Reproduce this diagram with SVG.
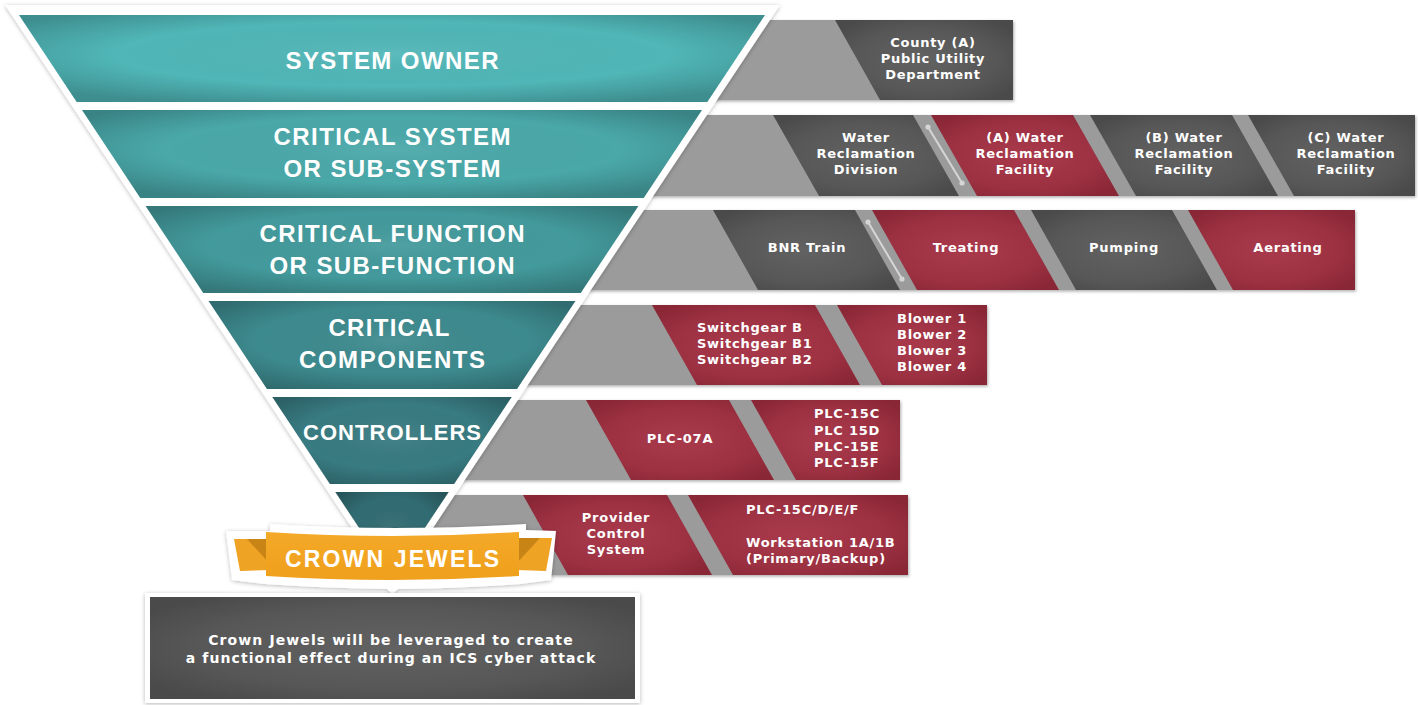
<svg xmlns="http://www.w3.org/2000/svg" width="1418" height="705" viewBox="0 0 1418 705">
  <defs>
    <filter id="sh" x="-5%" y="-10%" width="110%" height="125%">
      <feDropShadow dx="1" dy="1.5" stdDeviation="1.6" flood-color="#000" flood-opacity="0.32"/>
    </filter>
    <filter id="shSoft" x="-5%" y="-5%" width="110%" height="110%">
      <feDropShadow dx="0" dy="1" stdDeviation="2.2" flood-color="#000" flood-opacity="0.28"/>
    </filter>
    <radialGradient id="shade" cx="0.5" cy="0.45" r="0.62">
      <stop offset="0" stop-color="#fff" stop-opacity="0.07"/>
      <stop offset="0.6" stop-color="#000" stop-opacity="0"/>
      <stop offset="1" stop-color="#000" stop-opacity="0.22"/>
    </radialGradient>
    <radialGradient id="red" cx="0.5" cy="0.5" r="0.62">
      <stop offset="0" stop-color="#a93a4c"/>
      <stop offset="0.65" stop-color="#9c3142"/>
      <stop offset="1" stop-color="#8a2736"/>
    </radialGradient>
    <radialGradient id="dark" cx="0.5" cy="0.5" r="0.62">
      <stop offset="0" stop-color="#626262"/>
      <stop offset="0.65" stop-color="#575757"/>
      <stop offset="1" stop-color="#4a4a4a"/>
    </radialGradient>
    <linearGradient id="orange" x1="0" y1="0" x2="0" y2="1">
      <stop offset="0" stop-color="#f4a928"/>
      <stop offset="1" stop-color="#efa01c"/>
    </linearGradient>
    <style>
      .bar { fill: #9b9b9b; }
      .r { fill: url(#red); }
      .d { fill: url(#dark); }
      .sd { fill: url(#shade); }
      .hd { font-family: "Liberation Sans", Arial, sans-serif; font-weight: bold; font-size: 24px; fill: #fff; text-anchor: middle; }
      .bx { font-family: "DejaVu Sans", "Liberation Sans", sans-serif; font-weight: bold; font-size: 13px; fill: #fff; letter-spacing: 0.75px; }
      .c { text-anchor: middle; }
      .link { stroke: #d6d6d6; stroke-width: 2; }
      .dot { fill: #d6d6d6; }
    </style>
  </defs>

  <rect width="1418" height="705" fill="#fff"/>

  <!-- grey row bars behind the detail boxes -->
  <g id="rows" filter="url(#sh)">
    <rect class="bar" x="380" y="20" width="633" height="80"/>
    <rect class="bar" x="380" y="115" width="1035" height="81"/>
    <rect class="bar" x="380" y="210" width="975" height="80"/>
    <rect class="bar" x="380" y="305" width="607" height="80"/>
    <rect class="bar" x="380" y="400" width="520" height="80"/>
    <rect class="bar" x="380" y="495" width="528" height="80"/>
  </g>

  <!-- row 1 : system owner -->
  <g id="owner">
    <polygon class="d" points="835,20 1013,20 1013,100 880,100"/>
    <text class="bx c" x="933" y="47">County (A)</text>
    <text class="bx c" x="933" y="63">Public Utility</text>
    <text class="bx c" x="933" y="79">Department</text>
  </g>

  <!-- row 2 : critical system -->
  <g id="wr-division">
    <polygon class="d" points="773,115 913,115 959,196 819,196"/>
    <text class="bx c" x="866" y="142">Water</text>
    <text class="bx c" x="866" y="158">Reclamation</text>
    <text class="bx c" x="866" y="174">Division</text>
  </g>
  <g id="wr-facility-a">
    <polygon class="r" points="931,115 1073,115 1119,196 977,196"/>
    <text class="bx c" x="1025" y="142">(A) Water</text>
    <text class="bx c" x="1025" y="158">Reclamation</text>
    <text class="bx c" x="1025" y="174">Facility</text>
  </g>
  <g id="wr-facility-b">
    <polygon class="d" points="1090,115 1232,115 1278,196 1136,196"/>
    <text class="bx c" x="1184" y="142">(B) Water</text>
    <text class="bx c" x="1184" y="158">Reclamation</text>
    <text class="bx c" x="1184" y="174">Facility</text>
  </g>
  <g id="wr-facility-c">
    <polygon class="d" points="1248,115 1415,115 1415,196 1294,196"/>
    <text class="bx c" x="1346" y="142">(C) Water</text>
    <text class="bx c" x="1346" y="158">Reclamation</text>
    <text class="bx c" x="1346" y="174">Facility</text>
  </g>

  <!-- row 3 : critical function -->
  <g id="bnr-train">
    <polygon class="d" points="713,210 855,210 900,290 758,290"/>
    <text class="bx c" x="807" y="252">BNR Train</text>
  </g>
  <g id="treating">
    <polygon class="r" points="872,210 1014,210 1059,290 917,290"/>
    <text class="bx c" x="966" y="252">Treating</text>
  </g>
  <g id="pumping">
    <polygon class="d" points="1031,210 1172,210 1217,290 1076,290"/>
    <text class="bx c" x="1124" y="252">Pumping</text>
  </g>
  <g id="aerating">
    <polygon class="r" points="1188,210 1355,210 1355,290 1233,290"/>
    <text class="bx c" x="1288" y="252">Aerating</text>
  </g>

  <!-- row 4 : critical components -->
  <g id="switchgear">
    <polygon class="r" points="652,305 815,305 860,385 697,385"/>
    <text class="bx" x="697" y="332">Switchgear B</text>
    <text class="bx" x="697" y="348">Switchgear B1</text>
    <text class="bx" x="697" y="364">Switchgear B2</text>
  </g>
  <g id="blowers">
    <polygon class="r" points="837,305 987,305 987,385 882,385"/>
    <text class="bx" x="897" y="323">Blower 1</text>
    <text class="bx" x="897" y="339">Blower 2</text>
    <text class="bx" x="897" y="355">Blower 3</text>
    <text class="bx" x="897" y="371">Blower 4</text>
  </g>

  <!-- row 5 : controllers -->
  <g id="plc-07a">
    <polygon class="r" points="586,400 729,400 774,480 631,480"/>
    <text class="bx c" x="680" y="443">PLC-07A</text>
  </g>
  <g id="plc-15">
    <polygon class="r" points="751,400 900,400 900,480 796,480"/>
    <text class="bx" x="814" y="418">PLC-15C</text>
    <text class="bx" x="814" y="435">PLC 15D</text>
    <text class="bx" x="814" y="451">PLC-15E</text>
    <text class="bx" x="814" y="467">PLC-15F</text>
  </g>

  <!-- row 6 : crown jewels -->
  <g id="provider">
    <polygon class="r" points="523,495 667,495 712,575 568,575"/>
    <text class="bx c" x="616" y="522">Provider</text>
    <text class="bx c" x="616" y="538">Control</text>
    <text class="bx c" x="616" y="554">System</text>
  </g>
  <g id="workstations">
    <polygon class="r" points="688,495 908,495 908,575 733,575"/>
    <text class="bx" x="746" y="514">PLC-15C/D/E/F</text>
    <text class="bx" x="746" y="547">Workstation 1A/1B</text>
    <text class="bx" x="746" y="563">(Primary/Backup)</text>
  </g>

  <!-- links between related boxes -->
  <g id="connectors">
    <line class="link" x1="928" y1="127" x2="962" y2="183"/>
    <circle class="dot" cx="928" cy="127" r="2.6"/>
    <circle class="dot" cx="962" cy="183" r="2.6"/>
    <line class="link" x1="868" y1="222" x2="902" y2="279"/>
    <circle class="dot" cx="868" cy="222" r="2.6"/>
    <circle class="dot" cx="902" cy="279" r="2.6"/>
  </g>

  <!-- funnel -->
  <g id="funnel">
    <polygon points="5,5 780,5 392.5,589" fill="#fff" filter="url(#shSoft)"/>
  </g>
  <g id="system-owner">
    <polygon points="19,15 765,15 707.3,102 76.7,102" fill="#50b6b7"/>
    <polygon class="sd" points="19,15 765,15 707.3,102 76.7,102"/>
    <text class="hd" x="392" y="69" textLength="213" lengthAdjust="spacing">SYSTEM OWNER</text>
  </g>
  <g id="critical-system">
    <polygon points="82,110 702,110 643.7,198 140.3,198" fill="#4aa8a9"/>
    <polygon class="sd" points="82,110 702,110 643.7,198 140.3,198"/>
    <text class="hd" x="392" y="145" textLength="237" lengthAdjust="spacing">CRITICAL SYSTEM</text>
    <text class="hd" x="392" y="177" textLength="217" lengthAdjust="spacing">OR SUB-SYSTEM</text>
  </g>
  <g id="critical-function">
    <polygon points="145.6,206 638.4,206 580.7,293 203.3,293" fill="#439a9c"/>
    <polygon class="sd" points="145.6,206 638.4,206 580.7,293 203.3,293"/>
    <text class="hd" x="392" y="242" textLength="265" lengthAdjust="spacing">CRITICAL FUNCTION</text>
    <text class="hd" x="392" y="274" textLength="245" lengthAdjust="spacing">OR SUB-FUNCTION</text>
  </g>
  <g id="critical-components">
    <polygon points="208.6,301 575.4,301 517,389 267,389" fill="#3d8a8e"/>
    <polygon class="sd" points="208.6,301 575.4,301 517,389 267,389"/>
    <text class="hd" x="389" y="336" textLength="121" lengthAdjust="spacing">CRITICAL</text>
    <text class="hd" x="392" y="368" textLength="186" lengthAdjust="spacing">COMPONENTS</text>
  </g>
  <g id="controllers">
    <polygon points="272.3,397 511.7,397 454.1,484 329.9,484" fill="#387b81"/>
    <polygon class="sd" points="272.3,397 511.7,397 454.1,484 329.9,484"/>
    <text class="hd" x="392" y="440" style="font-size:22px" textLength="178" lengthAdjust="spacing">CONTROLLERS</text>
  </g>
  <g id="funnel-tip">
    <polygon points="335.3,492 448.7,492 392,577.6" fill="#326c73"/>
    <polygon class="sd" points="335.3,492 448.7,492 392,577.6"/>
  </g>

  <!-- crown jewels ribbon -->
  <g id="crown-jewels">
    <g filter="url(#shSoft)">
      <path d="M226,531 L270,531 L270,524 Q392,532 526,524 L526,530 L556,531 L551,580 L520,584 Q460,588 398,589 L392.5,594 L387,589 Q320,588 265,584 L232,580 Z" fill="#fff"/>
    </g>
    <polygon points="234,539 270,539 270,570 240,571" fill="#eea324"/>
    <polygon points="247,539 270,539 270,564" fill="#c98416"/>
    <polygon points="516,538 552,538 546,571 516,570" fill="#eea324"/>
    <polygon points="516,538 540,538 516,564" fill="#c98416"/>
    <path d="M266,532 Q392,540 519,532 L519,576 Q392,584 266,576 Z" fill="url(#orange)"/>
    <text class="hd" x="392" y="567" style="font-size:23px" textLength="214" lengthAdjust="spacing">CROWN JEWELS</text>
  </g>

  <!-- explanatory note -->
  <g id="note">
    <rect x="145" y="593" width="495" height="110" fill="#fff" filter="url(#shSoft)"/>
    <rect x="150" y="597" width="485" height="102" fill="url(#dark)"/>
    <text class="bx c" x="391" y="645" style="font-size:14px;letter-spacing:1.1px">Crown Jewels will be leveraged to create</text>
    <text class="bx c" x="391" y="663" style="font-size:14px;letter-spacing:1.1px">a functional effect during an ICS cyber attack</text>
  </g>
</svg>
